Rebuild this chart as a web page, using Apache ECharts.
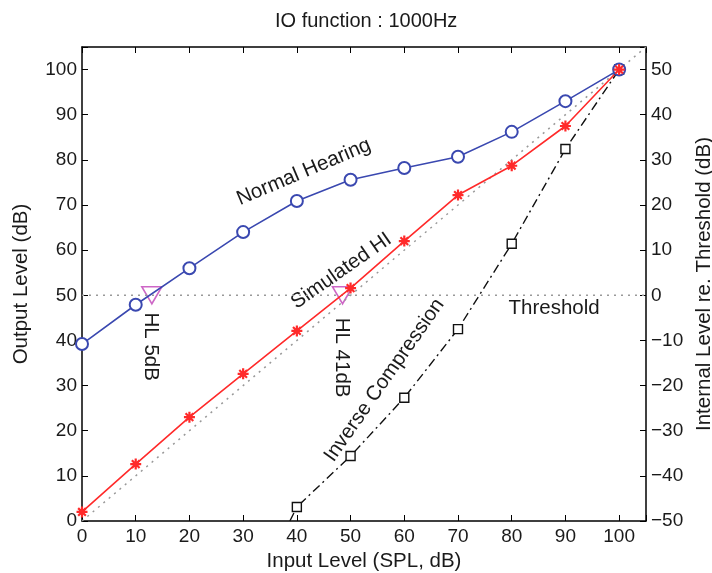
<!DOCTYPE html>
<html><head><meta charset="utf-8">
<script src="https://cdn.jsdelivr.net/npm/echarts@6/dist/echarts.min.js"></script>
<style>html,body{margin:0;padding:0;background:#fff}#c{width:712px;height:573px}</style>
</head><body><div id="c"></div>
<script>
const inputLevels = [0, 10, 20, 30, 40, 50, 60, 70, 80, 90, 100];
const normalHearing = [39.2, 47.9, 56, 64, 70.9, 75.6, 78.2, 80.7, 86.2, 93, 100];
const simulatedHI = [2, 12.6, 23, 32.6, 42.1, 51.6, 62, 72.2, 78.7, 87.5, 100];
const inverseX = [38.7, 40, 50, 60, 70, 80, 90, 100];
const inverseY = [0, 3.1, 14.4, 27.3, 42.5, 61.4, 82.4, 100];
const hlMarkers = [[13, 50], [48.5, 50]];
const diagonal = [[0, 0], [105, 105]];
const thresholdLine = [[0, 50], [105, 50]];
const leftTicks = [0, 10, 20, 30, 40, 50, 60, 70, 80, 90, 100];
const rightTicks = [-50, -40, -30, -20, -10, 0, 10, 20, 30, 40, 50];
const annotations = [
  {text: 'Normal Hearing', x: 41.3, y: 77.3, rotate: 23},
  {text: 'Simulated HI', x: 48.3, y: 55.4, rotate: 35},
  {text: 'Inverse Compression', x: 56.3, y: 31.2, rotate: 55},
  {text: 'Threshold', x: 87.9, y: 47, rotate: 0},
  {text: 'HL 5dB', x: 12.8, y: 38.6, rotate: -90},
  {text: 'HL 41dB', x: 48.3, y: 36.2, rotate: -90}
];

const FONT = 'Liberation Sans';
const TXT = '#1a1a1a';
const chart = echarts.init(document.getElementById('c'));
const star = 'path://M-1,-5L1,-5L1,5L-1,5Z M-5,-1L5,-1L5,1L-5,1Z M-4.2,-2.8L-2.8,-4.2L4.2,2.8L2.8,4.2Z M2.8,-4.2L4.2,-2.8L-2.8,4.2L-4.2,2.8Z';
const axisCommon = {
  axisLine: {show: true, onZero: false, lineStyle: {color: '#000', width: 1.5}},
  axisTick: {show: true, inside: true, length: 6, lineStyle: {color: '#000', width: 1}},
  splitLine: {show: false},
  nameTextStyle: {fontFamily: FONT, fontSize: 20.5, color: TXT}
};
const tickLabel = {fontFamily: FONT, fontSize: 19, color: TXT};
chart.setOption({
  animation: false,
  textStyle: {fontFamily: FONT},
  title: {text: 'IO function : 1000Hz', left: 270, top: 6,
    textStyle: {fontFamily: FONT, fontSize: 20, fontWeight: 'normal', color: TXT}},
  grid: {left: 82, right: 66, top: 47, bottom: 52, outerBoundsMode: 'none', containLabel: false},
  xAxis: [
    Object.assign({type: 'value', position: 'bottom', min: 0, max: 105, interval: 10,
      name: 'Input Level (SPL, dB)', nameLocation: 'middle', nameGap: 25,
      axisLabel: Object.assign({margin: 6,
        formatter: v => leftTicks.includes(v) ? String(v) : ''}, tickLabel)}, axisCommon),
    Object.assign({type: 'value', position: 'top', min: 0, max: 105, interval: 10,
      axisLabel: {show: false}}, axisCommon)
  ],
  yAxis: [
    Object.assign({type: 'value', position: 'left', min: 0, max: 105, interval: 10,
      name: 'Output Level (dB)', nameLocation: 'middle', nameGap: 50, nameRotate: 90,
      axisLabel: Object.assign({margin: 5,
        formatter: v => leftTicks.includes(v) ? String(v) : ''}, tickLabel)}, axisCommon),
    Object.assign({type: 'value', position: 'right', min: -50, max: 55, interval: 10,
      name: 'Internal Level re. Threshold (dB)', nameLocation: 'middle', nameGap: 47, nameRotate: 90,
      axisLabel: Object.assign({margin: 5,
        formatter: v => rightTicks.includes(v) ? (v < 0 ? '\u2212' + (-v) : String(v)) : ''}, tickLabel)}, axisCommon)
  ],
  series: [
    {type: 'line', data: diagonal, symbol: 'none', silent: true,
      lineStyle: {color: '#999', width: 1.5, type: [2, 5]}},
    {type: 'line', data: thresholdLine, symbol: 'none', silent: true,
      lineStyle: {color: '#999', width: 1.5, type: [2, 5]}},
    {type: 'line', name: 'Inverse Compression',
      data: inverseX.map((x, i) => ({value: [x, inverseY[i]], symbol: i === 0 ? 'none' : 'rect'})),
      symbolSize: 9, lineStyle: {color: '#111', width: 1.4, type: [9, 4, 2, 4]},
      itemStyle: {color: '#fff', borderColor: '#111', borderWidth: 1.4}},
    {type: 'line', name: 'Normal Hearing', data: inputLevels.map((x, i) => [x, normalHearing[i]]),
      symbol: 'emptyCircle', symbolSize: 12, lineStyle: {color: '#3a48b0', width: 1.6},
      itemStyle: {color: '#3a48b0', borderColor: '#3a48b0', borderWidth: 1.6}},
    {type: 'line', name: 'Simulated HI', data: inputLevels.map((x, i) => [x, simulatedHI[i]]),
      symbol: star, symbolSize: 11, lineStyle: {color: '#ff2a2a', width: 1.6},
      itemStyle: {color: '#ff2a2a'}},
    {type: 'scatter', data: hlMarkers, symbol: 'triangle', symbolRotate: 180, symbolSize: [20, 17],
      itemStyle: {color: 'rgba(0,0,0,0)', borderColor: '#c040b8', borderWidth: 1.6}},
    {type: 'scatter', symbolSize: 0, silent: true, itemStyle: {opacity: 1},
      data: annotations.map(a => ({value: [a.x, a.y],
        label: {show: true, position: 'inside', formatter: a.text, rotate: a.rotate,
          fontFamily: FONT, fontSize: 20.5, color: TXT, textBorderWidth: 0, opacity: 1}}))}
  ]
});
</script></body></html>
